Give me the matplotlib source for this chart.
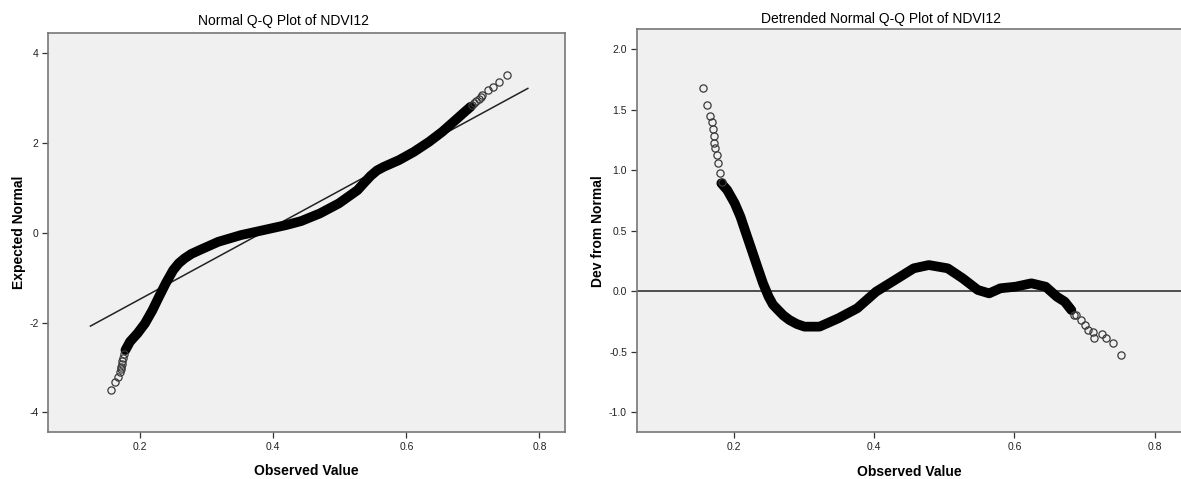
import matplotlib
matplotlib.use('Agg')
import matplotlib.pyplot as plt

plt.rcParams['font.family'] = ['Liberation Sans', 'DejaVu Sans']

# ---- Normal Q-Q plot (observed value, expected normal) ----
# dense part of the point cloud (drawn as a thick band)
qq_band_x = [0.1779, 0.1847, 0.1960, 0.2073, 0.2186, 0.2271, 0.2384, 0.2497, 0.2580,
             0.2667, 0.2770, 0.2893, 0.3175, 0.3515, 0.3854, 0.4194, 0.4419, 0.4702,
             0.4986, 0.5268, 0.5370, 0.5465, 0.5560, 0.5663, 0.5890, 0.6116, 0.6343,
             0.6540, 0.6710, 0.6851, 0.6965]
qq_band_y = [-2.614, -2.428, -2.242, -2.019, -1.723, -1.462, -1.128, -0.831, -0.680,
             -0.571, -0.470, -0.386, -0.200, -0.051, 0.060, 0.172, 0.261, 0.432,
             0.655, 0.952, 1.120, 1.270, 1.390, 1.471, 1.620, 1.806, 2.029,
             2.251, 2.474, 2.660, 2.808]
# sparse tail points
qq_tail_x = [0.1564, 0.1624, 0.1662, 0.1700, 0.1710, 0.1717, 0.1725, 0.1734, 0.1750, 0.1765,
             0.6990, 0.7015, 0.7049, 0.7085, 0.7122, 0.7134, 0.7234, 0.7310, 0.7400, 0.7515]
qq_tail_y = [-3.505, -3.320, -3.210, -3.100, -3.040, -2.985, -2.930, -2.860, -2.780, -2.700,
             2.850, 2.890, 2.935, 2.980, 3.031, 3.070, 3.180, 3.250, 3.365, 3.510]
# reference line end points
qq_line_x = [0.1253, 0.7826]
qq_line_y = [-2.079, 3.218]

# ---- Detrended normal Q-Q plot (observed value, deviation) ----
dt_band_x = [0.1825, 0.1909, 0.2016, 0.2097, 0.2177, 0.2258, 0.2338, 0.2419, 0.2499,
             0.2560, 0.2634, 0.2710, 0.2795, 0.2900, 0.3009, 0.3224, 0.3492, 0.3761,
             0.4029, 0.4297, 0.4565, 0.4780, 0.5049, 0.5263, 0.5478, 0.5639, 0.5800,
             0.6015, 0.6240, 0.6444, 0.6605, 0.6716, 0.6810]
dt_band_y = [0.893, 0.837, 0.727, 0.617, 0.479, 0.341, 0.203, 0.066, -0.045,
             -0.110, -0.155, -0.200, -0.237, -0.270, -0.292, -0.292, -0.223, -0.140,
             -0.003, 0.093, 0.190, 0.217, 0.190, 0.107, 0.011, -0.017, 0.025,
             0.038, 0.066, 0.038, -0.045, -0.086, -0.155]
dt_tail_x = [0.1560, 0.1618, 0.1657, 0.1697, 0.1706, 0.1715, 0.1721, 0.1737, 0.1758,
             0.1775, 0.1800, 0.1828,
             0.6846, 0.6880, 0.6950, 0.6999, 0.7046, 0.7117, 0.7127, 0.7240, 0.7307,
             0.7407, 0.7516]
dt_tail_y = [1.677, 1.537, 1.449, 1.399, 1.339, 1.283, 1.228, 1.182, 1.126,
             1.058, 0.975, 0.906,
             -0.196, -0.196, -0.237, -0.279, -0.320, -0.334, -0.389, -0.355, -0.389,
             -0.425, -0.526]

W, H = 1181, 479
fig = plt.figure(figsize=(W / 100, H / 100), dpi=100)
fig.patch.set_facecolor('white')

def px_box(x0, x1, y0, y1):
    # pixel box (left, right, top, bottom) -> figure fraction rect
    return [x0 / W, 1 - y1 / H, (x1 - x0) / W, (y1 - y0) / H]

ax1 = fig.add_axes(px_box(48.3, 564.7, 33.3, 432.3))
ax2 = fig.add_axes(px_box(636.7, 1181.6, 29.3, 432.3))

band_kw = dict(color='black', lw=7, solid_capstyle='round', solid_joinstyle='round', zorder=3)
tail_kw = dict(ls='none', marker='o', ms=5.2, mfc='none', mec='#3a3a3a', mew=0.9, zorder=4)

ax1.plot(qq_line_x, qq_line_y, color='#222222', lw=1.1, zorder=2)
ax1.plot(qq_band_x, qq_band_y, **band_kw)
ax1.plot(qq_tail_x, qq_tail_y, **tail_kw)
ax1.set_xlim(0.062, 0.838)
ax1.set_ylim(-4.446, 4.446)
ax1.set_xticks([0.2, 0.4, 0.6, 0.8])
ax1.set_xticklabels(['0.2', '0.4', '0.6', '0.8'])
ax1.set_yticks([-4, -2, 0, 2, 4])
ax1.set_yticklabels(['-4', '-2', '0', '2', '4'])

ax2.axhline(0, color='#222222', lw=1.1, zorder=2)
ax2.plot(dt_band_x, dt_band_y, **band_kw)
ax2.plot(dt_tail_x, dt_tail_y, **tail_kw)
ax2.set_xlim(0.062, 0.838)
ax2.set_ylim(-1.165, 2.165)
ax2.set_xticks([0.2, 0.4, 0.6, 0.8])
ax2.set_xticklabels(['0.2', '0.4', '0.6', '0.8'])
ax2.set_yticks([-1.0, -0.5, 0.0, 0.5, 1.0, 1.5, 2.0])
ax2.set_yticklabels(['-1.0', '-0.5', '0.0', '0.5', '1.0', '1.5', '2.0'])

for ax in (ax1, ax2):
    ax.set_facecolor('#f0f0f0')
    for s in ax.spines.values():
        s.set_color('#777777')
        s.set_linewidth(1.2)
    ax.tick_params(direction='out', length=4.5, width=0.9, color='#333333',
                   labelsize=7.5, labelcolor='#222222', pad=2.5, top=False, right=False)
    ax.set_xlabel('Observed Value', fontsize=10, fontweight='bold')
    ax.xaxis.set_label_coords(0.5, -0.08)

ax1.set_ylabel('Expected Normal', fontsize=10, fontweight='bold')
ax1.yaxis.set_label_coords(-22.0 / 516.4, 0.5)
ax2.set_ylabel('Dev from Normal', fontsize=10, fontweight='bold')
ax2.yaxis.set_label_coords(-31.7 / 544.9, 0.5)

fig.text(284 / W, 1 - 21 / H, 'Normal Q-Q Plot of NDVI12', ha='center', va='center', fontsize=10)
fig.text(881 / W, 1 - 19 / H, 'Detrended Normal Q-Q Plot of NDVI12', ha='center', va='center', fontsize=10)

fig.savefig('out.png', dpi=100, facecolor='white')
